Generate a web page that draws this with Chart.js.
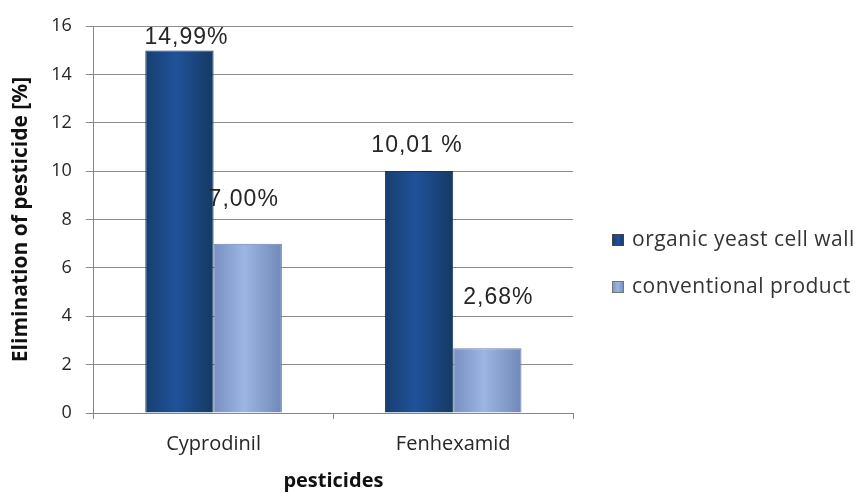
<!DOCTYPE html>
<html>
<head>
<meta charset="utf-8">
<script src="https://cdn.jsdelivr.net/npm/chart.js@4/dist/chart.umd.min.js"></script>
<style>
  html, body { margin:0; padding:0; background:#fff; }
  #wrap { width:859px; height:493px; }
</style>
</head>
<body>
<div id="wrap"><canvas id="chart" width="859" height="493"></canvas></div>
<script>
// ---- Data ----
const categories   = ['Cyprodinil', 'Fenhexamid'];
const seriesNames  = ['organic yeast cell wall', 'conventional product'];
const organicVals  = [14.99, 10.01];
const convVals     = [7.00, 2.68];
const organicLbls  = ['14,99%', '10,01 %'];
const convLbls     = ['7,00%', '2,68%'];
const yTicks       = [0, 2, 4, 6, 8, 10, 12, 14, 16];

const FONT  = "'Open Sans', Lato, sans-serif";
const FONT2 = "'Liberation Sans', Arial, sans-serif";

const GRAD = [
  ['#173e70', '#20529a', '#153963'],
  ['#7890c2', '#9db5e2', '#7189b8'],
];

// ---- Bar gradients, set once bars know their size ----
const barShade = {
  id: 'barShade',
  beforeDatasetsDraw(chart) {
    const c = chart.ctx;
    chart.data.datasets.forEach((ds, di) => {
      chart.getDatasetMeta(di).data.forEach(el => {
        const g = c.createLinearGradient(el.x - el.width / 2, 0, el.x + el.width / 2, 0);
        g.addColorStop(0, GRAD[di][0]);
        g.addColorStop(0.45, GRAD[di][1]);
        g.addColorStop(1, GRAD[di][2]);
        el.options.backgroundColor = g;
      });
    });
  }
};

// ---- Value labels (offsets per label, as placed in the original) ----
const valueLabels = {
  id: 'valueLabels',
  afterDatasetsDraw(chart, args, opts) {
    const c = chart.ctx;
    c.save();
    c.font = `23px ${FONT2}`;
    c.letterSpacing = '1px';
    c.fillStyle = '#262626';
    c.textAlign = 'center';
    c.textBaseline = 'middle';
    opts.labels.forEach((lbls, di) => {
      chart.getDatasetMeta(di).data.forEach((bar, i) => {
        const off = opts.offsets[di][i];
        c.fillText(lbls[i], bar.x + off[0], bar.y - off[1]);
      });
    });
    c.restore();
  }
};

// ---- Legend on the right ----
const sideLegend = {
  id: 'sideLegend',
  afterDraw(chart) {
    const c = chart.ctx;
    const x = chart.chartArea.right + 39;
    c.save();
    c.font = `21px ${FONT}`;
    c.letterSpacing = '0.5px';
    c.textBaseline = 'middle';
    seriesNames.forEach((n, i) => {
      const y = 240 + i * 47;
      const g = c.createLinearGradient(x, 0, x + 12, 0);
      g.addColorStop(0, GRAD[i][0]); g.addColorStop(0.5, GRAD[i][1]); g.addColorStop(1, GRAD[i][2]);
      c.fillStyle = g;
      c.fillRect(x, y - 6, 12, 12);
      c.strokeStyle = i === 0 ? '#444' : '#777';
      c.lineWidth = 1;
      c.strokeRect(x + 0.5, y - 5.5, 11, 11);
      c.fillStyle = '#333';
      c.fillText(n, x + 20, y);
    });
    c.restore();
  }
};

new Chart(document.getElementById('chart'), {
  type: 'bar',
  data: {
    labels: categories,
    datasets: [
      { label: seriesNames[0], data: organicVals, backgroundColor: c => GRAD[0][1],
        borderColor: '#143660', borderWidth: 1, categoryPercentage: 0.57, barPercentage: 1.0 },
      { label: seriesNames[1], data: convVals, backgroundColor: c => GRAD[1][1],
        borderColor: '#6a80ac', borderWidth: 1, categoryPercentage: 0.57, barPercentage: 1.0 },
    ],
  },
  options: {
    responsive: false,
    animation: false,
    layout: { padding: { top: 26, right: 286, left: 0, bottom: 0 } },
    plugins: {
      tooltip: { enabled: false },
      legend: { display: false },
      valueLabels: {
        labels: [organicLbls, convLbls],
        offsets: [[[7, 13], [-2, 25]], [[-4, 44], [11, 51]]],
      },
    },
    scales: {
      x: {
        offset: true,
        grid: { display: true, drawOnChartArea: false, offset: true, color: '#888', tickLength: 6 },
        border: { color: '#888' },
        ticks: { font: { family: FONT, size: 20 }, color: '#262626', padding: 13 },
        title: { display: true, text: 'pesticides', font: { family: FONT, size: 20, weight: 'bold' }, color: '#111', padding: { top: 0, bottom: 0 } },
      },
      y: {
        min: 0, max: 16,
        afterBuildTicks: axis => { axis.ticks = yTicks.map(v => ({ value: v })); },
        grid: { color: '#8c8c8c', tickLength: 8 },
        border: { color: '#888' },
        ticks: { font: { family: FONT, size: 18 }, color: '#262626', padding: 14 },
        title: { display: true, text: 'Elimination of pesticide [%]', font: { family: FONT, size: 21, weight: 'bold' }, color: '#111', padding: { top: 8, bottom: 4 } },
      },
    },
  },
  plugins: [barShade, valueLabels, sideLegend],
});
</script>
</body>
</html>
